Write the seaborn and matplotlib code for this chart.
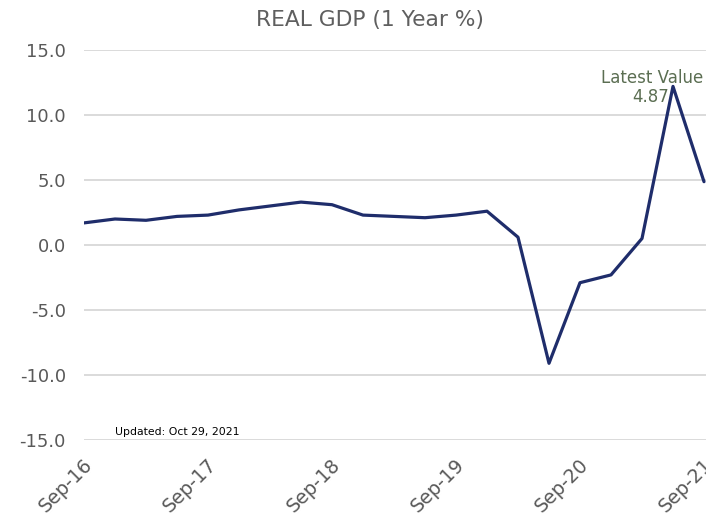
import matplotlib
matplotlib.use("Agg")
import matplotlib.pyplot as plt
import matplotlib.transforms as mtransforms
import seaborn as sns
import numpy as np
import pandas as pd

quarters = ["Sep-16", "Dec-16", "Mar-17", "Jun-17", "Sep-17", "Dec-17", "Mar-18",
            "Jun-18", "Sep-18", "Dec-18", "Mar-19", "Jun-19", "Sep-19", "Dec-19",
            "Mar-20", "Jun-20", "Sep-20", "Dec-20", "Mar-21", "Jun-21", "Sep-21"]
gdp_yoy = [1.7, 2.0, 1.9, 2.2, 2.3, 2.7, 3.0, 3.3, 3.1, 2.3, 2.2, 2.1, 2.3, 2.6,
           0.6, -9.1, -2.9, -2.3, 0.5, 12.2, 4.87]
y_ticks = [-15, -10, -5, 0, 5, 10, 15]
x_tick_labels = ["Sep-16", "Sep-17", "Sep-18", "Sep-19", "Sep-20", "Sep-21"]

df = pd.DataFrame({"pos": np.arange(len(quarters)), "quarter": quarters, "value": gdp_yoy})

sns.set_style("white")
plt.rcParams["font.family"] = ["DejaVu Sans"]

W, H = 706, 515
L, T, B = 84, 50, 440
fig = plt.figure(figsize=(W / 100, H / 100), dpi=100)
ax = fig.add_axes([L / W, 1 - B / H, 1 - L / W, (B - T) / H])

sns.lineplot(data=df, x="pos", y="value", ax=ax, color="#1f2d6b", linewidth=2.3)

ax.set_ylim(-15, 15)
ax.set_xlim(0, 20 + 2 / 31)
ax.set_yticks(y_ticks)
ax.set_yticklabels([f"{v:.1f}" for v in y_ticks])
tick_pos = [quarters.index(q) for q in x_tick_labels]
ax.set_xticks(tick_pos)
ax.set_xticklabels(x_tick_labels, rotation=45, ha="right", rotation_mode="anchor")
ax.set_xlabel("")
ax.set_ylabel("")
ax.grid(axis="y", color="#d4d4d4", linewidth=1.2)
ax.grid(axis="x", visible=False)
for s in ax.spines.values():
    s.set_visible(False)
ax.tick_params(axis="both", length=0, labelcolor="#595959")
ax.tick_params(axis="y", pad=13, labelsize=13)
ax.tick_params(axis="x", pad=11, labelsize=13.8)
offset = mtransforms.ScaledTranslation(-1 / 72, 0, fig.dpi_scale_trans)
for lbl in ax.get_xticklabels():
    lbl.set_transform(lbl.get_transform() + offset)
for lbl in ax.get_xticklabels() + ax.get_yticklabels():
    lbl.set_clip_on(False)

fig.text(370 / W, 1 - 20 / H, "REAL GDP (1 Year %)", ha="center", va="center",
         fontsize=15.7, color="#5f5f5f")

aw = W - L
ax.text((703 - L) / aw, 1 - (83 - T) / (B - T), "Latest Value", transform=ax.transAxes,
        ha="right", va="baseline", fontsize=12, color="#5b6e52")
ax.text((669 - L) / aw, 1 - (102 - T) / (B - T), f"{gdp_yoy[-1]:.2f}", transform=ax.transAxes,
        ha="right", va="baseline", fontsize=12, color="#5b6e52")

ax.text((115 - L) / aw, 1 - (435 - T) / (B - T), "Updated: Oct 29, 2021",
        transform=ax.transAxes, ha="left", va="baseline", fontsize=7.8, color="#000000")

fig.savefig("out.png", dpi=100)
